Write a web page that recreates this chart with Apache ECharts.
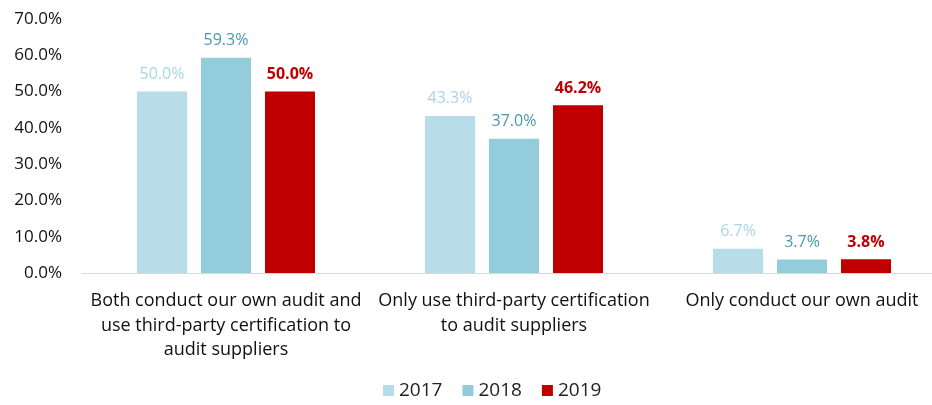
<!DOCTYPE html>
<html>
<head>
<meta charset="utf-8">
<script src="https://cdn.jsdelivr.net/npm/echarts@6/dist/echarts.min.js"></script>
<style>
  html, body { margin: 0; padding: 0; background: #fff; }
  #chart { width: 932px; height: 405px; }
</style>
</head>
<body>
<div id="chart"></div>
<script>
const categories = [
  'Both conduct our own audit and\nuse third-party certification to\naudit suppliers',
  'Only use third-party certification\nto audit suppliers',
  'Only conduct our own audit'
];
const years = ['2017', '2018', '2019'];
const values2017 = [50.0, 43.3, 6.7];
const values2018 = [59.3, 37.0, 3.7];
const values2019 = [50.0, 46.2, 3.8];

const barColors = ['#B7DDE8', '#92CDDC', '#C00000'];
const labelColors = ['#A9D5E3', '#4A98AE', '#C00000'];
const fontFamily = '"Open Sans", "Noto Sans", sans-serif';

let myChart = echarts.init(document.getElementById('chart'));

function makeSeries(name, data, i) {
  return {
    name: name,
    type: 'bar',
    barWidth: 50,
    barGap: '28%',
    itemStyle: { color: barColors[i] },
    label: {
      show: true,
      position: 'top',
      distance: 9,
      formatter: p => p.value.toFixed(1) + '%',
      color: labelColors[i],
      fontSize: 16,
      fontWeight: i === 2 ? 'bold' : 'normal',
      fontFamily: fontFamily
    },
    data: data
  };
}

let option = {
  backgroundColor: '#fff',
  animation: false,
  legend: {
    bottom: 0,
    left: 378,
    itemWidth: 11,
    itemHeight: 11,
    itemGap: 20,
    icon: 'rect',
    textStyle: { fontSize: 19, color: '#222', fontFamily: fontFamily },
    data: years
  },
  grid: {
    left: 82,
    top: 19,
    width: 864,
    bottom: 132,
    containLabel: false,
    outerBoundsMode: 'none'
  },
  xAxis: {
    type: 'category',
    data: categories,
    axisTick: { show: false },
    axisLine: { lineStyle: { color: '#D9D9D9', width: 1 } },
    axisLabel: {
      interval: 0,
      margin: 16,
      fontSize: 18,
      lineHeight: 24.5,
      color: '#111',
      fontFamily: fontFamily
    }
  },
  yAxis: {
    type: 'value',
    min: 0,
    max: 70,
    interval: 10,
    splitLine: { show: false },
    axisLine: { show: false },
    axisTick: { show: false },
    axisLabel: {
      margin: 20,
      fontSize: 17,
      color: '#111',
      fontFamily: fontFamily,
      formatter: v => v.toFixed(1) + '%'
    }
  },
  series: [
    makeSeries(years[0], values2017, 0),
    makeSeries(years[1], values2018, 1),
    makeSeries(years[2], values2019, 2)
  ]
};
myChart.setOption(option);
</script>
</body>
</html>
